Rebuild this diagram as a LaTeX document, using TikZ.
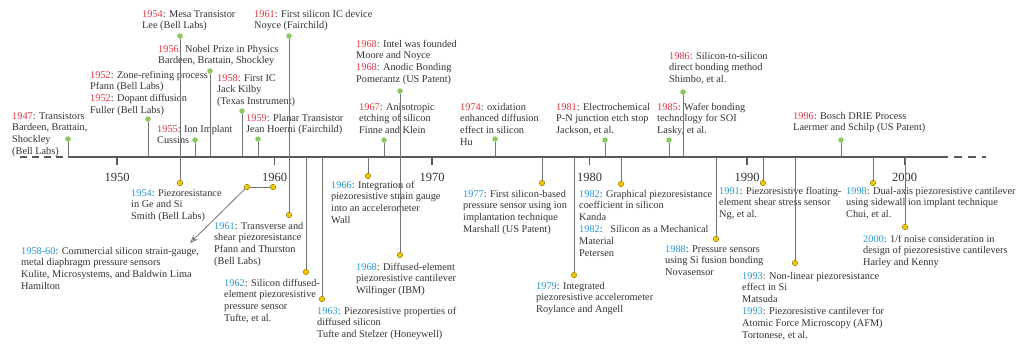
\documentclass[tikz,border=0pt]{standalone}
\usepackage{fontspec}
\setmainfont{Liberation Serif}
\usepackage{tikz}
\usetikzlibrary{arrows.meta}
\definecolor{yrred}{RGB}{222,52,64}
\definecolor{yrblue}{RGB}{38,150,210}
\definecolor{txtgray}{RGB}{50,50,50}
\definecolor{stemgray}{RGB}{115,115,115}
\definecolor{dotgreen}{RGB}{140,200,95}
\definecolor{dotyellow}{RGB}{240,200,0}
\newcommand{\redyr}[1]{\textcolor{yrred}{#1}}
\newcommand{\blueyr}[1]{\textcolor{yrblue}{#1}}

\begin{document}
\begin{tikzpicture}[x=1pt, y=-1pt,
    evtxt/.style={anchor=north west, inner sep=0pt, align=left, text=txtgray,
        font=\fontsize{10.3}{11.8}\selectfont, yshift=8.4pt},
    gdot/.style={circle, fill=dotgreen, inner sep=0pt, minimum size=5.5pt},
    ydot/.style={circle, fill=dotyellow, draw=dotyellow!55!black, line width=0.4pt,
        inner sep=0pt, minimum size=5.5pt},
    stem/.style={draw=stemgray, line width=0.8pt},
    axisline/.style={draw=black!65, line width=1.4pt}]
    \useasboundingbox (0,0) rectangle (1021,348);

    % above the axis
    \node[evtxt] (t1947) at (12,119) {\strut\redyr{1947}: Transistors\\Bardeen, Brattain,\\Shockley\\(Bell Labs)};
    \node[evtxt] (t1952) at (90,78) {\strut\redyr{1952}: Zone-refining process\\Pfann (Bell Labs)\\\redyr{1952}: Dopant diffusion\\Fuller (Bell Labs)};
    \node[evtxt] (t1954) at (142,17) {\strut\redyr{1954}: Mesa Transistor\\Lee (Bell Labs)};
    \node[evtxt] (t1955) at (157,132) {\strut\redyr{1955}: Ion Implant\\Cussins};
    \node[evtxt] (t1956) at (158,52) {\strut\redyr{1956}: Nobel Prize in Physics\\Bardeen, Brattain, Shockley};
    \node[evtxt] (t1958) at (217,81) {\strut\redyr{1958}: First IC\\Jack Kilby\\(Texas Instrument)};
    \node[evtxt] (t1959) at (246,121) {\strut\redyr{1959}: Planar Transistor\\Jean Hoerni (Fairchild)};
    \node[evtxt] (t1961) at (254,17) {\strut\redyr{1961}: First silicon IC device\\Noyce (Fairchild)};
    \node[evtxt] (t1967) at (359,110) {\strut\redyr{1967}: Anisotropic\\etching of silicon\\Finne and Klein};
    \node[evtxt] (t1968) at (356,47) {\strut\redyr{1968}: Intel was founded\\Moore and Noyce\\\redyr{1968}: Anodic Bonding\\Pomerantz (US Patent)};
    \node[evtxt] (t1974) at (460,110) {\strut\redyr{1974}: oxidation\\enhanced diffusion\\effect in silicon\\Hu};
    \node[evtxt] (t1981) at (556,110) {\strut\redyr{1981}: Electrochemical\\P-N junction etch stop\\Jackson, et al.};
    \node[evtxt] (t1985) at (657,110) {\strut\redyr{1985}: Wafer bonding\\technology for SOI\\Lasky, et al.};
    \node[evtxt] (t1986) at (669,59) {\strut\redyr{1986}: Silicon-to-silicon\\direct bonding method\\Shimbo, et al.};
    \node[evtxt] (t1996) at (793,119) {\strut\redyr{1996}: Bosch DRIE Process\\Laermer and Schilp (US Patent)};

    % below the axis
    \node[evtxt] (s1954) at (131,196) {\strut\blueyr{1954}: Piezoresistance\\in Ge and Si\\Smith (Bell Labs)};
    \node[evtxt] (s1958) at (21,254) {\strut\blueyr{1958-60}: Commercial silicon strain-gauge,\\metal diaphragm pressure sensors\\Kulite, Microsystems, and Baldwin Lima\\Hamilton};
    \node[evtxt] (s1961) at (214,229) {\strut\blueyr{1961}: Transverse and\\shear piezoresistance\\Pfann and Thurston\\(Bell Labs)};
    \node[evtxt] (s1962) at (224,286) {\strut\blueyr{1962}: Silicon diffused-\\element piezoresistive\\pressure sensor\\Tufte, et al.};
    \node[evtxt] (s1963) at (317,314) {\strut\blueyr{1963}: Piezoresistive properties of\\diffused silicon\\Tufte and Stelzer (Honeywell)};
    \node[evtxt] (s1966) at (331,188) {\strut\blueyr{1966}: Integration of\\piezoresistive strain gauge\\into an accelerometer\\Wall};
    \node[evtxt] (s1968) at (356,270) {\strut\blueyr{1968}: Diffused-element\\piezoresistive cantilever\\Wilfinger (IBM)};
    \node[evtxt] (s1977) at (463,197) {\strut\blueyr{1977}: First silicon-based\\pressure sensor using ion\\implantation technique\\Marshall (US Patent)};
    \node[evtxt] (s1979) at (536,289) {\strut\blueyr{1979}: Integrated\\piezoresistive accelerometer\\Roylance and Angell};
    \node[evtxt] (s1982) at (579,197) {\strut\blueyr{1982}: Graphical piezoresistance\\coefficient in silicon\\Kanda\\\blueyr{1982}:\ \ \ Silicon as a Mechanical\\Material\\Petersen};
    \node[evtxt] (s1988) at (665,252) {\strut\blueyr{1988}: Pressure sensors\\using Si fusion bonding\\Novasensor};
    \node[evtxt] (s1991) at (719,194) {\strut\blueyr{1991}: Piezoresistive floating-\\element shear stress sensor\\Ng, et al.};
    \node[evtxt] (s1993) at (742,279) {\strut\blueyr{1993}: Non-linear piezoresistance\\effect in Si\\Matsuda\\\blueyr{1993}: Piezoresistive cantilever for\\Atomic Force Microscopy (AFM)\\Tortonese, et al.};
    \node[evtxt] (s1998) at (846,194) {\strut\blueyr{1998}: Dual-axis piezoresistive cantilever\\using sidewall ion implant technique\\Chui, et al.};
    \node[evtxt] (s2000) at (863,242) {\strut\blueyr{2000}: 1/f noise consideration in\\design of piezoresistive cantilevers\\Harley and Kenny};

    % axis
    \coordinate (axL) at (20,157);
    \coordinate (ax0) at (68,157);
    \coordinate (ax1) at (940,157);
    \coordinate (axR) at (986,157);
    \draw[axisline, dash pattern=on 7pt off 5pt] (axL) -- (ax0);
    \draw[axisline] (ax0) -- (ax1);
    \draw[axisline, dash pattern=on 8pt off 6pt] (ax1) -- (axR);
    \foreach \yr [count=\i from 0] in {1950,1960,...,2000}
    {
        \coordinate (k\yr) at (117+157.5*\i,157);
        \draw[axisline, line width=1.1pt] (k\yr) -- ++(0,8);
        \node[anchor=base, inner sep=0pt, text=txtgray, font=\fontsize{12.5}{14}\selectfont] (l\yr) at (117+157.5*\i,181) {\yr};
    }

    % stems up
    \foreach \nm/\x/\y in {1947/68/139, 1952/148/119, 1954/180/36, 1955/195/140, 1956/210/71,
        1958/242/111, 1959/258/139, 1961/289/36, 1967/384/140, 1968/400/91, 1974/495/139,
        1981/605/140, 1985/669/140, 1986/683/92, 1996/841/140}
    {
        \coordinate (a\nm) at (\x,157);
        \node[gdot] (g\nm) at (\x,\y) {};
        \draw[stem] (a\nm) -- (g\nm);
    }

    % stems down
    \foreach \nm/\x/\y in {1954/180/183, 1961/289/215, 1962/306/272, 1963/322/299, 1966/368/176,
        1968/400/255, 1977/542/183, 1979/574/275, 1982/621/184, 1988/716/239, 1991/763/183,
        1993/795/263, 1998/873/183, 2000/905/227}
    {
        \coordinate (b\nm) at (\x,157);
        \node[ydot] (y\nm) at (\x,\y) {};
        \draw[stem] (b\nm) -- (y\nm);
    }

    \node[ydot] (y1958) at (247,187) {};
    \node[ydot] (y1960) at (273,187) {};
    \coordinate (arr1958) at (190,243);
    \draw[stem] (y1958) -- (y1960);
    \draw[stem, -{Stealth[open, length=8pt, width=6pt]}] (y1958) -- (arr1958);
\end{tikzpicture}
\end{document}
